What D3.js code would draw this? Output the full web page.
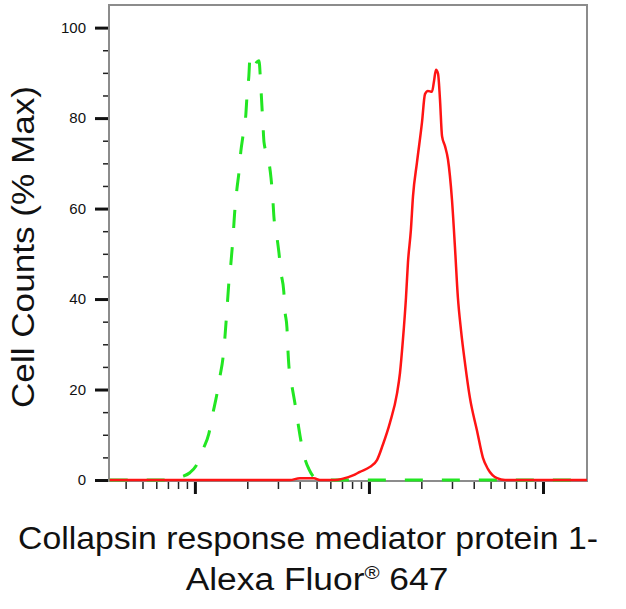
<!DOCTYPE html>
<html>
<head>
<meta charset="utf-8">
<script src="https://cdn.jsdelivr.net/npm/d3@7"></script>
<style>
  html, body { margin: 0; padding: 0; background: #fff; }
  svg { display: block; font-family: "Liberation Sans", Arial, sans-serif; }
</style>
</head>
<body>
<svg id="chart" width="626" height="609"></svg>
<script>
// fluorescence intensity (x) and % of max (y)
const controlX = [324, 630, 767, 841, 935, 1014, 1112, 1202, 1268, 1337, 1393, 1449, 1486, 1528, 1567,
    1611, 1652, 1698, 1742, 1791, 1837, 1888, 1963, 1991, 2042, 2070, 2153, 2270, 2333, 2393, 2427,
    2460, 2495, 2661, 2735, 2805, 2844, 2958, 3041, 3119, 3243, 3289, 3381, 3420, 3467, 3606, 3758,
    3908, 4064, 4285, 4519, 4764, 5224, 179000];
const controlY = [0, 0, 0.2, 0.7, 1.6, 3.1, 6.7, 10.2, 14.7, 18.9, 22.9, 26.9, 31.3, 37.6, 43.6,
    48, 53.1, 59.8, 64.2, 68, 72.7, 76, 80.9, 84.7, 89.3, 92.9, 90.9, 92.4, 92.7, 86.9, 82.7,
    78.7, 74.7, 70.4, 66.9, 62, 58.2, 53.8, 50.2, 46, 41.6, 37.6, 33.6, 29.1, 25.3, 20.9, 16.9,
    12.7, 8.7, 4.7, 2.4, 0.9, 0, 0];

const stainedX = [324, 3516, 4009, 4831, 5224, 6383, 7096, 8091, 8872, 10140, 11120, 12020, 13210,
    14490, 15070, 15670, 16330, 16750, 17420, 17910, 18880, 20180, 20990, 21830, 23010, 23660, 24270,
    24950, 25590, 26300, 27350, 28440, 29990, 31190, 32430, 33810, 35650, 38020, 41780, 45190, 48310,
    54450, 60530, 179000];
const stainedY = [0, 0, 0.4, 0.4, 0, 0, 0.3, 1.0, 1.8, 2.9, 4.4, 7.8, 12.7,
    19.1, 23.6, 30.9, 40.4, 48, 55.3, 62.7, 70.2, 79.1, 85.3, 86, 85.8, 88.2, 90.7,
    89.8, 84.2, 76, 73.8, 70.9, 62, 51.6, 40.4, 33.1, 25.8, 18.2, 10.9, 4.9, 2.4,
    0.4, 0, 0];

const yMajorTicks = [0, 20, 40, 60, 80, 100];
const yMinorTicks = [5, 10, 15, 25, 30, 35, 45, 50, 55, 65, 70, 75, 85, 90, 95];
const xMajorTicks = [1e3, 1e4, 1e5];
const xMinorTicks = [400, 500, 600, 700, 800, 900,
    2000, 3000, 4000, 5000, 6000, 7000, 8000, 9000,
    20000, 30000, 40000, 50000, 60000, 70000, 80000, 90000];

const svg = d3.select("#chart");
const plot = { left: 109, right: 587, top: 5, bottom: 481 };

const x = d3.scaleLog().domain([321, 179000]).range([plot.left, plot.right]);
const y = d3.scaleLinear().domain([0, 105]).range([480, plot.top]);

svg.append("defs").append("clipPath").attr("id", "clip")
    .append("rect")
    .attr("x", plot.left).attr("y", plot.top - 2)
    .attr("width", plot.right - plot.left).attr("height", plot.bottom - plot.top + 4);

// frame
svg.append("rect")
    .attr("x", plot.left).attr("y", plot.top)
    .attr("width", plot.right - plot.left).attr("height", plot.bottom - plot.top)
    .attr("fill", "none").attr("stroke", "#8c8c8c").attr("stroke-width", 2);

// y axis: major + minor ticks
const yMajor = svg.append("g")
    .attr("transform", `translate(${plot.left - 1},0)`)
    .call(d3.axisLeft(y).tickValues(yMajorTicks).tickSize(13).tickPadding(9).tickFormat(d3.format("d")));
yMajor.select(".domain").remove();
yMajor.selectAll("line").attr("stroke", "#111").attr("stroke-width", 3);
yMajor.selectAll("text").attr("font-size", 15).attr("fill", "#111")
    .attr("font-family", "'Liberation Sans', Arial, sans-serif");

const yMinor = svg.append("g")
    .attr("transform", `translate(${plot.left - 1},0)`)
    .call(d3.axisLeft(y).tickValues(yMinorTicks).tickSize(5).tickFormat(""));
yMinor.select(".domain").remove();
yMinor.selectAll("line").attr("stroke", "#222").attr("stroke-width", 1.5);

// x axis: log ticks, no labels
const xMajor = svg.append("g")
    .attr("transform", `translate(0,${plot.bottom + 1})`)
    .call(d3.axisBottom(x).tickValues(xMajorTicks).tickSize(12).tickFormat(""));
xMajor.select(".domain").remove();
xMajor.selectAll("line").attr("stroke", "#111").attr("stroke-width", 3);

const xMinor = svg.append("g")
    .attr("transform", `translate(0,${plot.bottom + 1})`)
    .call(d3.axisBottom(x).tickValues(xMinorTicks).tickSize(7).tickFormat(""));
xMinor.select(".domain").remove();
xMinor.selectAll("line").attr("stroke", "#222").attr("stroke-width", 1.5);

// histograms
const line = d3.line()
    .x(d => x(d[0]))
    .y(d => y(d[1]))
    .curve(d3.curveMonotoneX);

const curves = svg.append("g").attr("clip-path", "url(#clip)");

curves.append("path")
    .datum(d3.zip(controlX, controlY))
    .attr("d", line)
    .attr("fill", "none")
    .attr("stroke", "#22e622")
    .attr("stroke-width", 3)
    .attr("stroke-dasharray", "18,19");

curves.append("path")
    .datum(d3.zip(stainedX, stainedY))
    .attr("d", line)
    .attr("fill", "none")
    .attr("stroke", "#ff1414")
    .attr("stroke-width", 2.5)
    .attr("stroke-linejoin", "round");

// axis titles
svg.append("text")
    .attr("transform", "translate(34,247) rotate(-90)")
    .attr("text-anchor", "middle")
    .attr("font-size", 31)
    .attr("fill", "#111")
    .attr("textLength", 322)
    .attr("lengthAdjust", "spacingAndGlyphs")
    .text("Cell Counts (% Max)");

svg.append("text")
    .attr("transform", "translate(308,549) scale(1.09,1)")
    .attr("text-anchor", "middle")
    .attr("font-size", 31)
    .attr("fill", "#111")
    .text("Collapsin response mediator protein 1-");

const t2 = svg.append("text")
    .attr("transform", "translate(317,590) scale(1.14,1)")
    .attr("text-anchor", "middle")
    .attr("font-size", 31)
    .attr("fill", "#111");
t2.append("tspan").text("Alexa Fluor");
t2.append("tspan").attr("font-size", 18).attr("dy", -11).text("®");
t2.append("tspan").attr("dy", 11).text(" 647");
</script>
</body>
</html>
